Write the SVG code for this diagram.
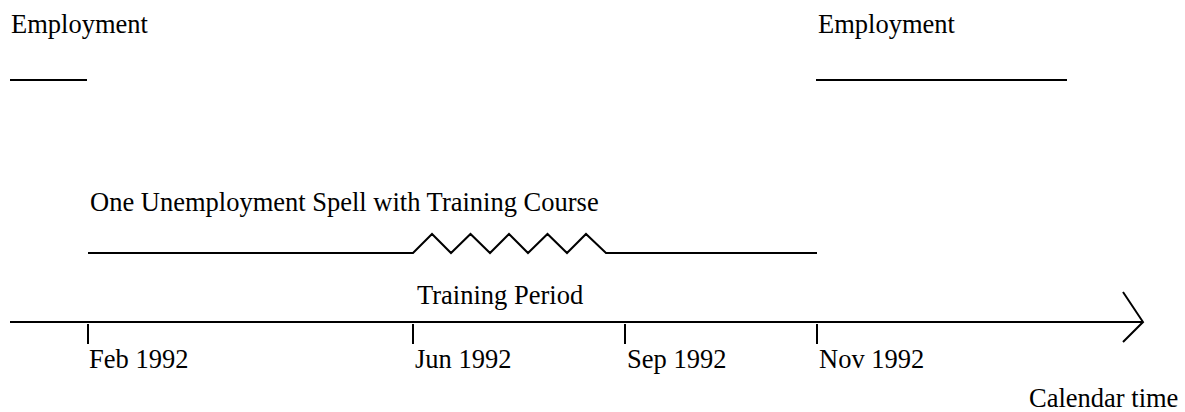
<svg xmlns="http://www.w3.org/2000/svg" width="1185" height="412" viewBox="0 0 1185 412">
<style>
text{font-family:"Liberation Serif","Times New Roman",serif;font-size:26.5px;fill:#000}
.ln{stroke:#000;stroke-width:2;fill:none}
</style>
<rect width="1185" height="412" fill="#fff"/>
<g id="employment-left">
<text x="11" y="33">Employment</text>
<line class="ln" x1="10" y1="80" x2="87" y2="80"/>
</g>
<g id="employment-right">
<text x="818" y="33">Employment</text>
<line class="ln" x1="816" y1="80" x2="1067" y2="80"/>
</g>
<g id="spell">
<text x="90" y="211">One Unemployment Spell with Training Course</text>
<polyline class="ln" points="88,253 413,253 432,234 451,253 470.5,234 490,253 509,234 528,253 547.5,234 567,253 586,234 606,253 817,253"/>
</g>
<g id="training-label">
<text x="417" y="304">Training Period</text>
</g>
<g id="connectors">
<line class="ln" x1="10" y1="322" x2="1143" y2="322"/>
<polyline class="ln" points="1123,292 1143,322 1123,342"/>
<line class="ln" x1="88" y1="324" x2="88" y2="344"/>
<line class="ln" x1="413" y1="324" x2="413" y2="344"/>
<line class="ln" x1="625" y1="324" x2="625" y2="344"/>
<line class="ln" x1="817" y1="324" x2="817" y2="344"/>
</g>
<g id="labels">
<text x="89" y="368">Feb 1992</text>
<text x="415" y="368">Jun 1992</text>
<text x="627" y="368">Sep 1992</text>
<text x="819" y="368">Nov 1992</text>
<text x="1029" y="407">Calendar time</text>
</g>
</svg>
